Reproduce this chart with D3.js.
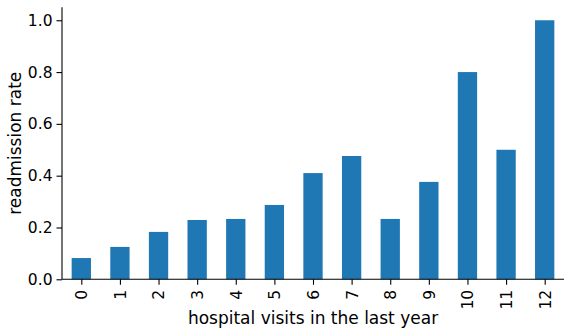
<!DOCTYPE html>
<html><head><meta charset="utf-8">
<script src="https://cdn.jsdelivr.net/npm/d3@7"></script>
<style>
body{margin:0;background:#fff;}
text{font-family:"DejaVu Sans",sans-serif;fill:#000;}
</style></head>
<body>
<svg id="c" width="571" height="336"></svg>
<script>
const categories = ["0","1","2","3","4","5","6","7","8","9","10","11","12"];
const rates = [0.082,0.125,0.183,0.229,0.233,0.287,0.410,0.476,0.233,0.376,0.800,0.500,1.000];
const yTicks = [0.0,0.2,0.4,0.6,0.8,1.0];
const xTitle = "hospital visits in the last year";
const yTitle = "readmission rate";

const svg = d3.select("#c");
const L = 62, R = 564, T = 7.3, B = 279.3;
const x = d3.scaleLinear().domain([-0.5, categories.length - 0.5]).range([L, R]);
const y = d3.scaleLinear().domain([0, 1.05]).range([B, T]);
const bw = 0.5;

svg.append("g").selectAll("rect").data(rates).join("rect")
  .attr("x", (d,i) => x(i - bw/2))
  .attr("width", (d,i) => x(i + bw/2) - x(i - bw/2))
  .attr("y", d => y(d))
  .attr("height", d => y(0) - y(d))
  .attr("fill", "#1f77b4");

const xAxis = d3.axisBottom(x).tickValues(d3.range(categories.length))
  .tickFormat(i => categories[i]).tickSize(5.5).tickPadding(5.5);
const gx = svg.append("g").attr("transform", `translate(0,${B})`).call(xAxis);
gx.select(".domain").attr("d", `M${L},0H${R}`).attr("stroke","#000").attr("stroke-width",1.1);
gx.selectAll(".tick line").attr("stroke","#000").attr("stroke-width",1.1);
gx.selectAll(".tick text")
  .attr("font-size", 15.5).attr("fill","#000")
  .attr("transform", "rotate(-90)")
  .attr("text-anchor", "end")
  .attr("x", -10.5).attr("y", 0).attr("dy", "0.35em");

const yAxis = d3.axisLeft(y).tickValues(yTicks).tickFormat(d3.format(".1f"))
  .tickSize(5.5).tickPadding(4);
const gy = svg.append("g").attr("transform", `translate(${L},0)`).call(yAxis);
gy.select(".domain").attr("d", `M0,${B}V${T}`).attr("stroke","#000").attr("stroke-width",1.1);
gy.selectAll(".tick line").attr("stroke","#000").attr("stroke-width",1.1);
gy.selectAll(".tick text").attr("font-size", 15.5).attr("fill","#000");

svg.append("text").attr("x", (L+R)/2).attr("y", 324)
  .attr("text-anchor","middle").attr("font-size", 17).text(xTitle);
svg.append("text").attr("transform", `translate(21,${(T+B)/2}) rotate(-90)`)
  .attr("text-anchor","middle").attr("font-size", 17).text(yTitle);
</script>
</body></html>
